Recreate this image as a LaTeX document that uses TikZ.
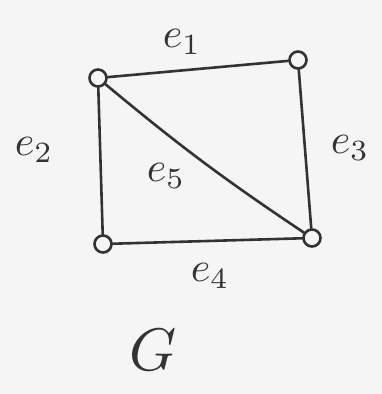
\documentclass[tikz,border=0pt]{standalone}
\begin{document}
\begin{tikzpicture}[x=1pt,y=-1pt,
  ink/.style={draw=black!80,line width=2.6pt,line cap=round},
  vert/.style={circle,draw=black!80,line width=2.6pt,minimum size=17pt,inner sep=0pt,fill=none},
  lab/.style={text=black!80,scale=4.2}]
\fill[black!4] (0,0) rectangle (382,394);
\useasboundingbox (0,0) rectangle (382,394);
\node[vert] (a) at (98,78) {};
\node[vert] (b) at (298,60) {};
\node[vert] (c) at (103,244) {};
\node[vert] (d) at (312,238) {};
\draw[ink] (a) -- (b);
\draw[ink] (a) -- (c);
\draw[ink] (b) -- (d);
\draw[ink] (c) -- (d);
\draw[ink] (a) to[bend right=3] (d);
\node[lab] (l1) at (182,42) {$e_1$};
\node[lab] (l2) at (34,150) {$e_2$};
\node[lab] (l3) at (350,148) {$e_3$};
\node[lab] (l5) at (166,176) {$e_5$};
\node[lab] (l4) at (210,276) {$e_4$};
\node[text=black!80,scale=6] (g) at (153,350) {$G$};
\end{tikzpicture}
\end{document}
